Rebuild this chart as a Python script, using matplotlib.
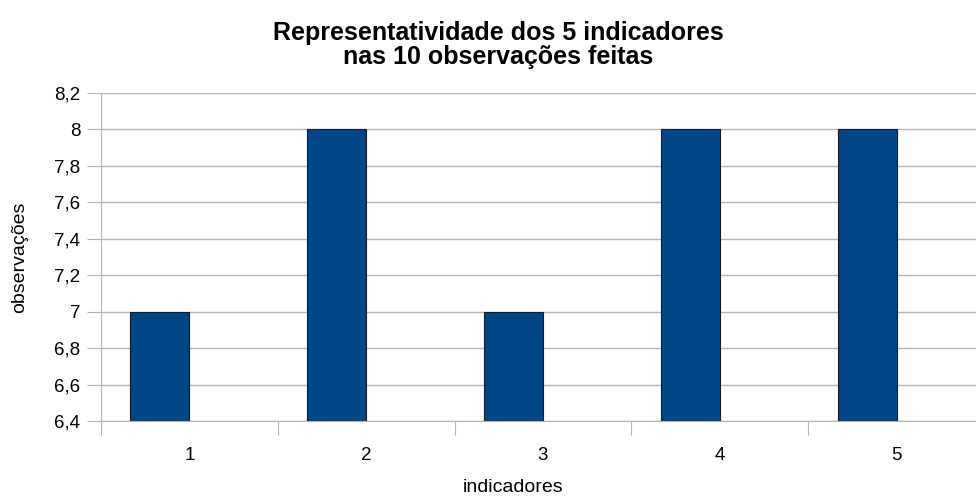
import matplotlib
matplotlib.use("Agg")
import matplotlib.pyplot as plt
import numpy as np

plt.rcParams['font.family'] = ['Liberation Sans', 'DejaVu Sans']

indicadores = [1, 2, 3, 4, 5]
observacoes = [7, 8, 7, 8, 8]
yticks = [6.4, 6.6, 6.8, 7.0, 7.2, 7.4, 7.6, 7.8, 8.0, 8.2]

fig = plt.figure(figsize=(9.76, 4.99), dpi=100)
ax = fig.add_axes([101 / 976, 1 - 421 / 499, 884 / 976, 328 / 499])

x = np.array(indicadores)
ax.bar(x, observacoes, width=-1 / 3, align='edge', color='#004586',
       edgecolor='#1a1a1a', linewidth=0.8, zorder=3)

ax.set_xlim(0.5, 5.5)
ax.set_ylim(6.4, 8.2)
ax.set_yticks(yticks)
ax.set_yticklabels([('%g' % v).replace('.', ',') for v in yticks], fontsize=13.5)

# category boundaries as major ticks, labels on minor ticks at centres
ax.set_xticks(np.arange(0.5, 6.0, 1.0))
ax.set_xticklabels([])
ax.set_xticks(x, minor=True)
ax.set_xticklabels([str(i) for i in indicadores], minor=True, fontsize=13.5)
ax.tick_params(axis='x', which='major', length=10, color='#b3b3b3', direction='out')
ax.tick_params(axis='x', which='minor', length=0, pad=19)
ax.tick_params(axis='y', length=10, color='#b3b3b3', direction='out', pad=5)

ax.grid(axis='y', color='#b3b3b3', linewidth=1, zorder=0)
ax.set_axisbelow(True)
for s in ['top', 'right']:
    ax.spines[s].set_visible(False)
for s in ['left', 'bottom']:
    ax.spines[s].set_color('#b3b3b3')

fig.text(498 / 976, 1 - 45 / 499, 'Representatividade dos 5 indicadores\nnas 10 observações feitas',
         ha='center', va='center', fontsize=18, fontweight='bold', linespacing=0.98)
fig.text(513 / 976, 1 - 487 / 499, 'indicadores', ha='center', va='center', fontsize=14)
fig.text(20 / 976, 1 - 257 / 499, 'observações', ha='center', va='center', fontsize=14, rotation=90)

fig.savefig('out.png', dpi=100)
